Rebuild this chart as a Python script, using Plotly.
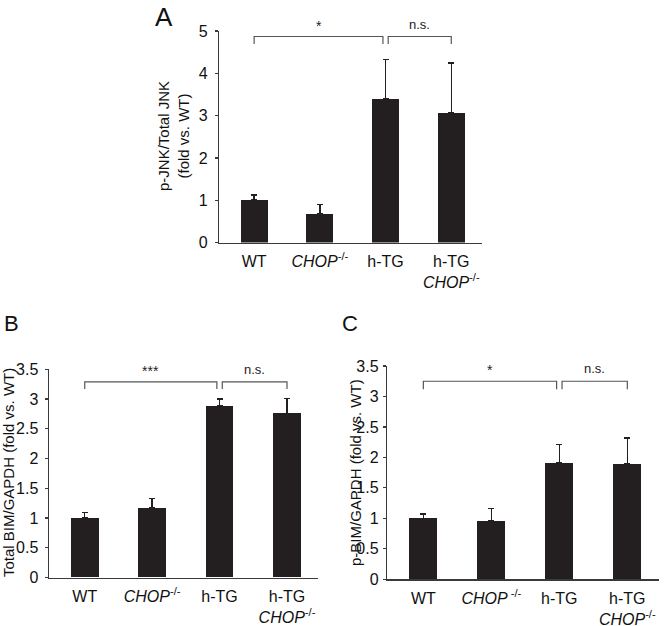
import plotly.graph_objects as go

categories = ["WT", "CHOP-/-", "h-TG", "h-TG CHOP-/-"]
tick_labels_ab = ["WT", "<i>CHOP</i><sup>-/-</sup>", "h-TG", "h-TG<br><i>CHOP</i><sup>-/-</sup>"]
tick_labels_c = ["WT", "<i>CHOP</i><sup> -/-</sup>", "h-TG", "h-TG<br><i>CHOP</i><sup>-/-</sup>"]

jnk_values = [1.0, 0.67, 3.40, 3.07]
jnk_errors = [0.12, 0.23, 0.93, 1.17]

total_bim_values = [1.0, 1.17, 2.88, 2.76]
total_bim_errors = [0.09, 0.16, 0.12, 0.25]

p_bim_values = [1.0, 0.96, 1.91, 1.89]
p_bim_errors = [0.07, 0.20, 0.30, 0.43]

# significance brackets: (start category, end category)
sig_pairs = [(0, 2), (2, 3)]
sig_labels_a = ["*", "n.s."]
sig_labels_b = ["***", "n.s."]
sig_labels_c = ["*", "n.s."]
bracket_level = {"A": 4.87, "B": 3.29, "C": 3.25}
bracket_drop = {"A": 0.18, "B": 0.12, "C": 0.13}

W, H = 664, 626
FONT = "Liberation Sans, Arial, sans-serif"
BAR = "#231f20"
AXIS = "#3a3a3a"

fig = go.Figure()

panels = [
    ("A", "x", "y", jnk_values, jnk_errors, tick_labels_ab, [0, 5], 1, sig_labels_a,
     (219.3, 481.5), (31, 242.5), 4),
    ("B", "x2", "y2", total_bim_values, total_bim_errors, tick_labels_ab, [0, 3.5], 0.5, sig_labels_b,
     (49, 318), (369.3, 577.5), 3),
    ("C", "x3", "y3", p_bim_values, p_bim_errors, tick_labels_c, [0, 3.5], 0.5, sig_labels_c,
     (387.3, 658.6), (366, 579.3), 1),
]

layout_axes = {}
xr = [-0.53, 3.46]
for name, xa, ya, vals, errs, ticks, yrange, dtick, labels, (px0, px1), (py0, py1), ystand in panels:
    idx = list(range(len(categories)))
    fig.add_trace(go.Bar(
        x=idx, y=vals, width=0.41, xaxis=xa, yaxis=ya,
        marker=dict(color=BAR, line=dict(width=0)),
        error_y=dict(type="data", array=errs, symmetric=False, arrayminus=[0]*len(errs),
                     color=BAR, thickness=1.5, width=3),
        showlegend=False, hoverinfo="skip"))
    xkey = "xaxis" + xa[1:]
    ykey = "yaxis" + ya[1:]
    layout_axes[xkey] = dict(
        domain=[px0 / W, px1 / W], range=xr, anchor=ya, automargin=False,
        tickmode="array", tickvals=idx, ticktext=ticks,
        showline=True, linecolor=AXIS, linewidth=1.5, ticks="", showgrid=False, zeroline=False,
        ticklabelstandoff=4,
        tickfont=dict(family=FONT, size=16, color="#111"), fixedrange=True)
    layout_axes[ykey] = dict(
        domain=[1 - py1 / H, 1 - py0 / H], range=yrange, anchor=xa, dtick=dtick, automargin=False,
        showline=True, linecolor=AXIS, linewidth=1.5, ticks="outside", ticklen=3,
        tickcolor=AXIS, tickwidth=1.2, showgrid=False, zeroline=False,
        tickfont=dict(family=FONT, size=16, color="#111"), ticklabelstandoff=ystand, fixedrange=True)

    lvl = bracket_level[name]
    drop = bracket_drop[name]
    gap = 0.04
    for (a, b), lab in zip(sig_pairs, labels):
        xa0 = a + (gap if a == 2 else 0)
        xb0 = b - (gap if b == 2 else 0)
        fig.add_shape(type="path",
                      path=f"M {xa0} {lvl - drop} L {xa0} {lvl} L {xb0} {lvl} L {xb0} {lvl - drop}",
                      xref=xa, yref=ya, line=dict(color="#555", width=1.2), layer="above")
        fig.add_annotation(x=(xa0 + xb0) / 2, y=lvl, xref=xa, yref=ya, text=lab, showarrow=False,
                           xanchor="center", yanchor="bottom", yshift=1 if lab != "n.s." else 3,
                           font=dict(family=FONT, size=14 if lab != "n.s." else 13, color="#222"))

fig.update_layout(**layout_axes)

# y-axis titles
for txt, px, py in [("p-JNK/Total JNK<br>(fold vs. WT)", 174, 136),
                    ("Total BIM/GAPDH (fold vs. WT)", 8, 473),
                    ("p-BIM/GAPDH (fold vs. WT)", 355, 473)]:
    fig.add_annotation(x=px / W, y=1 - py / H, xref="paper", yref="paper",
                       text=txt, textangle=-90, showarrow=False,
                       xanchor="center", yanchor="middle",
                       font=dict(family=FONT, size=15, color="#111"))

# panel letters
fig.add_annotation(x=164 / W, y=1, xref="paper", yref="paper", text="A",
                   showarrow=False, xanchor="center", yanchor="top",
                   font=dict(family=FONT, size=26, color="#111"))
for letter, px, py, sz in [("B", 11, 324, 22), ("C", 350, 324, 22)]:
    fig.add_annotation(x=px / W, y=1 - py / H, xref="paper", yref="paper", text=letter,
                       showarrow=False, xanchor="center", yanchor="middle",
                       font=dict(family=FONT, size=sz, color="#111"))

fig.update_layout(width=W, height=H, margin=dict(l=0, r=0, t=0, b=0, autoexpand=False),
                  paper_bgcolor="white", plot_bgcolor="white", bargap=0)

fig.write_html("out.html", config={"displayModeBar": False, "staticPlot": True},
               post_script="document.body.style.margin='0';")
